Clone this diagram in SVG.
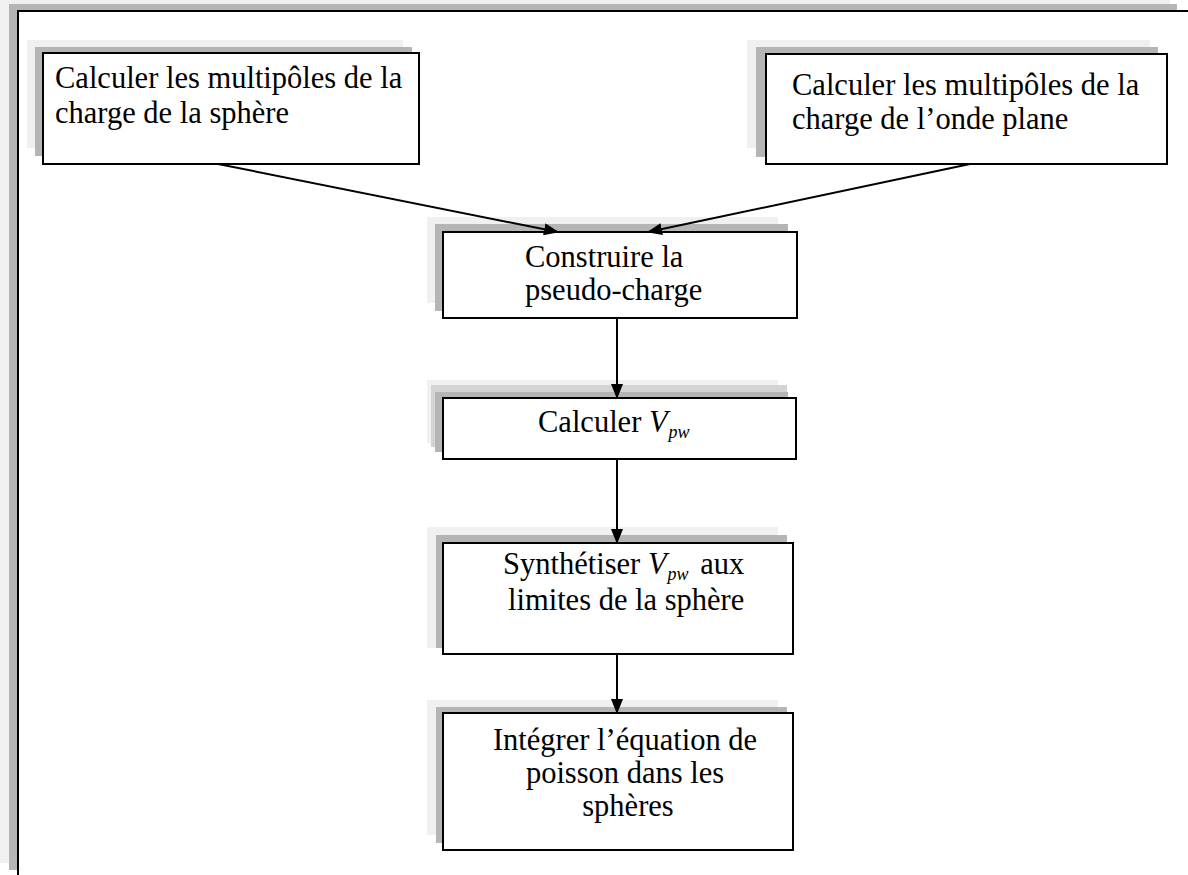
<svg xmlns="http://www.w3.org/2000/svg" width="1188" height="875" viewBox="0 0 1188 875">
  <style>
    .box { fill: #ffffff; stroke: #000000; stroke-width: 2; }
    .sh1 { fill: #b5b5b5; }
    .sh2 { fill: #f0f0f0; }
    .sh3 { fill: #d4d4d4; }
    .txt { font-family: "Liberation Serif", "Times New Roman", serif; font-size: 30.5px; fill: #000000; }
    .it { font-style: italic; }
    .sub { font-style: italic; font-size: 18px; }
    .edge { stroke: #000000; stroke-width: 2; fill: none; }
  </style>
  <defs>
    <marker id="arrow" markerWidth="15" markerHeight="12" refX="14" refY="6" orient="auto" markerUnits="userSpaceOnUse">
      <path d="M0,0 L15,6 L0,12 Z" fill="#000000"/>
    </marker>
  </defs>

  <rect width="1188" height="875" fill="#ffffff"/>

  <!-- page frame with stacked shadow -->
  <g id="frame">
    <rect class="sh2" x="0" y="0" width="1170" height="863"/>
    <rect class="sh1" x="9" y="4" width="1168" height="866"/>
    <rect x="18" y="11" width="1190" height="880" fill="#ffffff" stroke="#000000" stroke-width="2"/>
  </g>

  <g id="n1">
    <rect class="sh2" x="27" y="40" width="376" height="108"/>
    <rect class="sh1" x="35" y="47" width="377" height="109"/>
    <rect class="box" x="43" y="53" width="376" height="111"/>
    <text class="txt" x="55" y="88">Calculer les multipôles de la</text>
    <text class="txt" x="55" y="123">charge de la sphère</text>
  </g>

  <g id="n2">
    <rect class="sh2" x="747" y="40" width="403" height="108"/>
    <rect class="sh1" x="756" y="47" width="402" height="110"/>
    <rect class="box" x="766" y="54" width="401" height="110"/>
    <text class="txt" x="792" y="95">Calculer les multipôles de la</text>
    <text class="txt" x="792" y="129">charge de l’onde plane</text>
  </g>

  <g id="n3">
    <rect class="sh2" x="427" y="217" width="351" height="86"/>
    <rect class="sh1" x="435" y="224" width="353" height="87"/>
    <rect class="box" x="443" y="232" width="354" height="86"/>
    <text class="txt" x="525" y="267">Construire la</text>
    <text class="txt" x="525" y="300">pseudo-charge</text>
  </g>

  <g id="n4">
    <rect class="sh2" x="427" y="380" width="351" height="63"/>
    <rect class="sh3" x="431" y="385" width="356" height="62"/>
    <rect class="sh1" x="435" y="392" width="353" height="60"/>
    <rect class="box" x="443" y="398" width="353" height="61"/>
    <text class="txt" x="538" y="432">Calculer <tspan class="it">V</tspan><tspan class="sub" dx="1" dy="6">pw</tspan></text>
  </g>

  <g id="n5">
    <rect class="sh2" x="427" y="527" width="351" height="121"/>
    <rect class="sh1" x="436" y="535" width="351" height="113"/>
    <rect class="box" x="443" y="543" width="350" height="111"/>
    <text class="txt" x="503" y="574">Synthétiser <tspan class="it">V</tspan><tspan class="sub" dx="1" dy="6">pw</tspan><tspan dx="4" dy="-6"> aux</tspan></text>
    <text class="txt" x="508" y="610">limites de la sphère</text>
  </g>

  <g id="n6">
    <rect class="sh2" x="427" y="700" width="351" height="135"/>
    <rect class="sh1" x="436" y="707" width="351" height="136"/>
    <rect class="box" x="443" y="713" width="350" height="137"/>
    <text class="txt" x="625" y="750" text-anchor="middle">Intégrer l’équation de</text>
    <text class="txt" x="625" y="783" text-anchor="middle">poisson dans les</text>
    <text class="txt" x="628" y="816" text-anchor="middle">sphères</text>
  </g>

  <g id="connectors">
    <line class="edge" x1="218" y1="164" x2="558" y2="232" marker-end="url(#arrow)"/>
    <line class="edge" x1="970" y1="164" x2="648" y2="232" marker-end="url(#arrow)"/>
    <line class="edge" x1="617" y1="318" x2="617" y2="398" marker-end="url(#arrow)"/>
    <line class="edge" x1="617" y1="459" x2="617" y2="543" marker-end="url(#arrow)"/>
    <line class="edge" x1="617" y1="654" x2="617" y2="713" marker-end="url(#arrow)"/>
  </g>
</svg>
